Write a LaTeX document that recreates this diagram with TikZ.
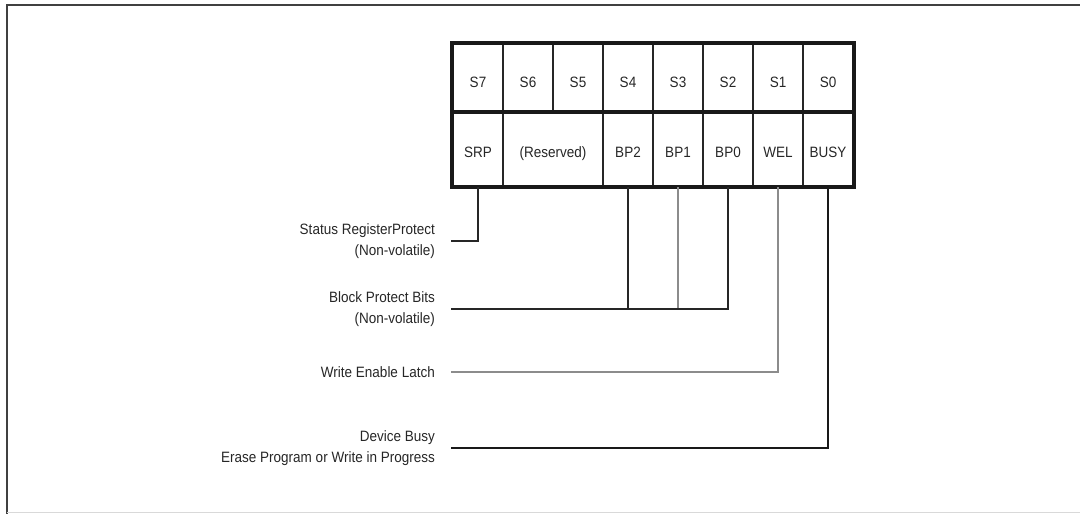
\documentclass[tikz,border=0pt]{standalone}
\usepackage{fontspec}
\setmainfont[FakeStretch=0.9]{Liberation Sans}
\begin{document}
\begin{tikzpicture}[x=1pt,y=-1pt,
  cell/.style={draw=black!85,line width=2pt,minimum height=69pt,minimum width=50pt,inner sep=0pt,anchor=north west,font=\fontsize{15}{18}\selectfont,text=black!85,text height=18.5pt,text depth=0pt},
  cellb/.style={cell,minimum height=73pt},
  lab/.style={anchor=east,align=right,inner sep=0pt,font=\fontsize{15}{21}\selectfont,text=black!85},
  conn/.style={line width=1.3pt,draw=black!85},
  conng/.style={line width=2pt,draw=black!45},
  connb/.style={line width=2.2pt,draw=black!90}]
\useasboundingbox (0,0) rectangle (1080,514);
% frame
\draw[line width=2pt,black!75] (7,514) -- (7,5) -- (1080,5);
\draw[line width=1pt,black!15] (7,512.5) -- (1080,512.5);
% top row
\node[cell] (s7) at (452,43) {S7};
\node[cell] (s6) at (502,43) {S6};
\node[cell] (s5) at (552,43) {S5};
\node[cell] (s4) at (602,43) {S4};
\node[cell] (s3) at (652,43) {S3};
\node[cell] (s2) at (702,43) {S2};
\node[cell] (s1) at (752,43) {S1};
\node[cell] (s0) at (802,43) {S0};
% bottom row
\node[cellb,text height=16.5pt] (srp) at (452,112) {SRP};
\node[cellb,text height=16.5pt,minimum width=100pt] (res) at (502,112) {(Reserved)};
\node[cellb,text height=16.5pt] (bp2) at (602,112) {BP2};
\node[cellb,text height=16.5pt] (bp1) at (652,112) {BP1};
\node[cellb,text height=16.5pt] (bp0) at (702,112) {BP0};
\node[cellb,text height=16.5pt] (wel) at (752,112) {WEL};
\node[cellb,text height=16.5pt] (busy) at (802,112) {BUSY};
\draw[line width=3.2pt,black!90] (s7.north west) rectangle (busy.south east);
\draw[line width=3.2pt,black!90] (srp.north west) -- (busy.north east);
% labels
\node[lab] (lsrp) at (435,241) {Status RegisterProtect\\(Non-volatile)};
\node[lab] (lbp) at (435,309) {Block Protect Bits\\(Non-volatile)};
\node[lab] (lwel) at (435,372) {Write Enable Latch};
\node[lab] (lbusy) at (435,448) {Device Busy\\Erase Program or Write in Progress};
% connectors
\coordinate (esrp) at ([xshift=16pt]lsrp.east);
\coordinate (ebp) at ([xshift=16pt]lbp.east);
\coordinate (ewel) at ([xshift=16pt]lwel.east);
\coordinate (ebusy) at ([xshift=16pt]lbusy.east);
\draw[conn] (srp.south) |- (esrp);
\draw[conn,line width=1.1pt] (bp2.south) |- (ebp);
\draw[conng] (bp1.south) -- (bp1.south |- ebp);
\draw[conn,line width=1.8pt] (bp0.south) |- (ebp);
\draw[conng] (wel.south) |- (ewel);
\draw[connb] (busy.south) |- (ebusy);
\end{tikzpicture}
\end{document}
